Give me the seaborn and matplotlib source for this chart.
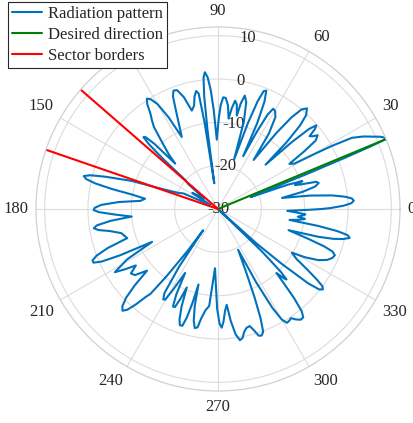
import numpy as np
import pandas as pd
import matplotlib
matplotlib.use("Agg")
import matplotlib.pyplot as plt
import seaborn as sns
from matplotlib.lines import Line2D

# ---- data: radiation pattern, (angle deg, gain dB) ----
q1_pattern = [
    (0.0, -6), (0.5, -4), (1.5, -1), (2.5, 0.8), (3.5, 1.4), (4.5, 1.0), (5.5, -0.5),
    (6.8, -3.5), (8.3, -8.5), (9.8, -15), (11.5, -10), (13.0, -7), (14.5, -6),
    (15.5, -6.5), (16.5, -10), (17.3, -11.4), (18.3, -9.5), (19.2, -13), (20.0, -22),
    (21.0, -18), (21.5, -8), (22.0, 2), (22.3, 8), (22.6, 12), (23.2, 11.8), (24.0, 11),
    (25.0, 9.5), (26.5, 7.5), (28.0, 5), (29.0, 0), (29.8, -5), (30.7, -9.5),
    (32.3, -10.5), (33.8, -6), (35.0, -2.5), (36.5, -1.4), (37.6, -2.5), (38.5, -3),
    (39.5, -1), (40.4, -0.2), (41.3, -2), (42.2, -7), (43.0, -15), (44.2, -8),
    (45.5, -3), (46.8, -0.3), (48.5, 1.0), (50.0, 0), (51.3, -3), (52.5, -8),
    (54.0, -16), (56.0, -9), (58.0, -5), (59.8, -3.8), (61.2, -3.6), (62.3, -5.5),
    (63.3, -10), (64.5, -16.5), (65.5, -8), (66.6, -3), (67.8, -0.5), (68.8, -0.8),
    (69.8, -3.5), (70.8, -9), (72.0, -18), (73.5, -9), (75.2, -4.5), (76.7, -3.1),
    (77.8, -5), (78.6, -8), (79.8, -5.5), (81.0, -4.7), (82.2, -6.5), (83.3, -9),
    (84.5, -6), (86.0, -4.3), (87.3, -4.2), (88.5, -6), (89.5, -9),
]
q2_pattern = [
    (91.0, -14), (92.5, -7), (93.5, -2.5), (94.5, 0.5), (95.5, 1.7), (96.3, 0.5),
    (97.0, -4), (97.6, -12), (98.2, -24), (98.8, -10), (99.5, -3), (100.5, -2.3),
    (101.8, -3.5), (103.0, -5.5), (104.9, -6.5), (107.0, -3), (109.0, -1),
    (110.6, -0.8), (111.8, -2), (113.0, -5), (115.0, -9), (116.7, -11.4), (118.3, -6),
    (120.0, -2), (121.5, -0.3), (122.8, 0.3), (124.0, -0.8), (125.3, -3), (126.7, -4.5),
    (128.0, -6), (130.0, -10), (132.0, -13), (133.3, -15.6), (134.3, -9), (135.2, -6.5),
    (136.0, -6.1), (136.8, -8), (137.7, -13), (138.5, -20), (140.0, -21), (143.0, -26),
    (148.0, -23), (152.0, -28), (155.7, -21.3), (158.0, -20), (160.0, -17), (162.0, -9),
    (164.0, -3), (165.2, 0.5), (166.2, 1.9), (167.2, 1.2), (168.2, -1), (169.3, -5),
    (170.5, -10), (172.0, -13), (174.0, -12), (176.0, -7), (178.0, -3), (179.5, -1.5),
]
q3_pattern = [
    (180.5, -1.3), (181.5, -2.5), (183.0, -6), (185.0, -10), (186.3, -5), (187.7, -1.8),
    (188.8, -1), (190.0, -2), (191.5, -4.5), (194.0, -7), (197.8, -8), (199.5, -3),
    (201.0, 0), (202.3, 1.3), (203.3, 1.3), (204.3, -0.5), (205.3, -5), (206.5, -13),
    (209.0, -6), (211.5, -2.1), (213.0, -4.5), (214.5, -7), (216.5, -5), (218.5, -5.5),
    (221.0, -8.3), (222.5, -4), (224.0, -0.5), (225.5, 1.5), (226.8, 2.2), (228.0, 1.3),
    (229.3, -1), (230.5, -3.6), (231.5, -5), (232.6, -10.6), (234.0, -18), (235.0, -24),
    (236.0, -14), (237.5, -7), (238.8, -5.6), (239.8, -5.8), (241.0, -9), (242.8, -13.4),
    (244.0, -8), (245.2, -5.2), (246.3, -5.3), (247.3, -7.5), (248.3, -10.5),
    (249.5, -6), (250.8, -3), (251.8, -1.8), (253.0, -1.8), (254.0, -4), (254.8, -7.5),
    (255.5, -12), (256.5, -7), (257.8, -3.5), (259.0, -2), (260.2, -2.3), (261.3, -4.5),
    (263.0, -6.5), (264.8, -7.5), (267.1, -16.3), (269.5, -7),
]
q4_pattern = [
    (270.8, -3.5), (271.8, -2.6), (272.8, -4), (274.0, -6.5), (275.2, -7.8), (276.5, -4),
    (278.0, -0.8), (279.5, 0.7), (280.8, 0.3), (282.0, -1), (283.5, -1.8), (285.2, -2),
    (286.5, -0.8), (287.8, 0.7), (289.0, 0.9), (290.2, 0.2), (291.3, -3), (292.5, -8),
    (294.0, -14), (296.3, -19.5), (297.5, -11), (298.8, -4), (300.0, -0.5), (301.2, 0.7),
    (302.5, 0.6), (303.8, 0.3), (305.2, 1.2), (306.8, 1.9), (308.2, 1.8), (309.3, 0.5),
    (310.5, -3), (311.5, -7), (312.4, -10), (313.5, -8), (314.2, -7.3), (315.0, -9.5),
    (316.0, -16), (317.3, -30), (318.2, -18), (319.3, -10.5), (320.5, -3), (321.5, -0.2),
    (322.5, 0.5), (323.5, 0), (324.5, -2), (325.8, -5), (327.5, -8.5), (329.4, -10.2),
    (331.0, -7), (333.0, -4), (335.0, -2.2), (336.8, -1.3), (338.4, -1.0), (339.6, -1.8),
    (340.6, -4), (341.7, -8), (343.3, -13), (344.5, -6), (345.5, -2.5), (346.5, -0.3),
    (347.6, 1.1), (348.6, 0.5), (349.5, -2), (350.4, -6.5), (351.3, -13.3),
    (352.5, -11), (353.5, -9.8), (354.5, -11.5), (355.5, -10.5), (356.5, -9.8),
    (357.5, -12), (358.5, -14), (359.5, -9), (360.0, -6),
]
desired_deg = [22.6, 22.6]
desired_db = [-30.0, 12.0]
sector_deg = [139.0, 161.0]
sector_db = [-30.0, 12.0]

r_min, r_max = -30.0, 12.0
r_ticks = [-30, -20, -10, 0, 10]
theta_ticks = list(range(0, 360, 30))
legend_labels = ["Radiation pattern", "Desired direction", "Sector borders"]

BLUE = "#0072BD"
GREEN = "#008000"
RED = "#FF0000"
TXT = "#262626"

sns.set_theme(style="white")
plt.rcParams["font.family"] = ["Liberation Serif", "DejaVu Serif"]

fig = plt.figure(figsize=(4.14, 4.23), dpi=100)
ax = fig.add_axes([36 / 414, 32 / 423, 364 / 414, 364 / 423], projection="polar")
ax.set_theta_zero_location("E")
ax.set_theta_direction(1)

pts = q1_pattern + q2_pattern + q3_pattern + q4_pattern
df = pd.DataFrame({"theta": np.deg2rad([p[0] for p in pts]), "r": [p[1] for p in pts]})
sns.lineplot(data=df, x="theta", y="r", ax=ax, sort=False, estimator=None,
             color=BLUE, linewidth=1.5)
dd = pd.DataFrame({"theta": np.deg2rad(desired_deg), "r": desired_db})
sns.lineplot(data=dd, x="theta", y="r", ax=ax, sort=False, estimator=None,
             color=GREEN, linewidth=1.5)
for a in sector_deg:
    sd = pd.DataFrame({"theta": np.deg2rad([a, a]), "r": sector_db})
    sns.lineplot(data=sd, x="theta", y="r", ax=ax, sort=False, estimator=None,
                 color=RED, linewidth=1.5)

ax.set_xlabel("")
ax.set_ylabel("")
ax.set_rlim(r_min, r_max)
ax.set_rticks(r_ticks)
ax.set_yticklabels([])
ax.set_xticks(np.deg2rad(theta_ticks))
ax.set_xticklabels([])
ax.tick_params(length=0)
ax.grid(True, color="#dcdcdc", linewidth=0.8)
ax.spines["polar"].set_color("#d0d0d0")
ax.spines["polar"].set_linewidth(0.9)

# radial labels along 80 degrees, centered on their circle
for t in r_ticks:
    ax.text(np.deg2rad(80), t, str(t), ha="center", va="center",
            fontsize=12, color=TXT, zorder=1)

# angular labels outside the circle, aligned like MATLAB
for t in theta_ticks:
    a = np.deg2rad(t)
    c, s = np.cos(a), np.sin(a)
    ha = "left" if c > 0.3 else ("right" if c < -0.3 else "center")
    va = "bottom" if s > 0.3 else ("top" if s < -0.3 else "center")
    ax.annotate(str(t), xy=(a, r_max), xytext=(5.5 * c, 5.5 * s),
                textcoords="offset points", ha=ha, va=va, fontsize=12,
                color=TXT, annotation_clip=False)

handles = [Line2D([], [], color=BLUE, lw=1.5),
           Line2D([], [], color=GREEN, lw=1.5),
           Line2D([], [], color=RED, lw=1.5)]
leg = fig.legend(handles, legend_labels,
                 loc="upper left", bbox_to_anchor=(8 / 414, 1 - 2 / 423),
                 fontsize=12, frameon=True, fancybox=False, framealpha=1.0,
                 edgecolor="#262626", borderpad=0.25, labelspacing=0.28,
                 handlelength=1.8, handletextpad=0.35, borderaxespad=0.0)
leg.get_frame().set_linewidth(0.8)
leg.set_zorder(10)

fig.savefig("out.png", dpi=100)
